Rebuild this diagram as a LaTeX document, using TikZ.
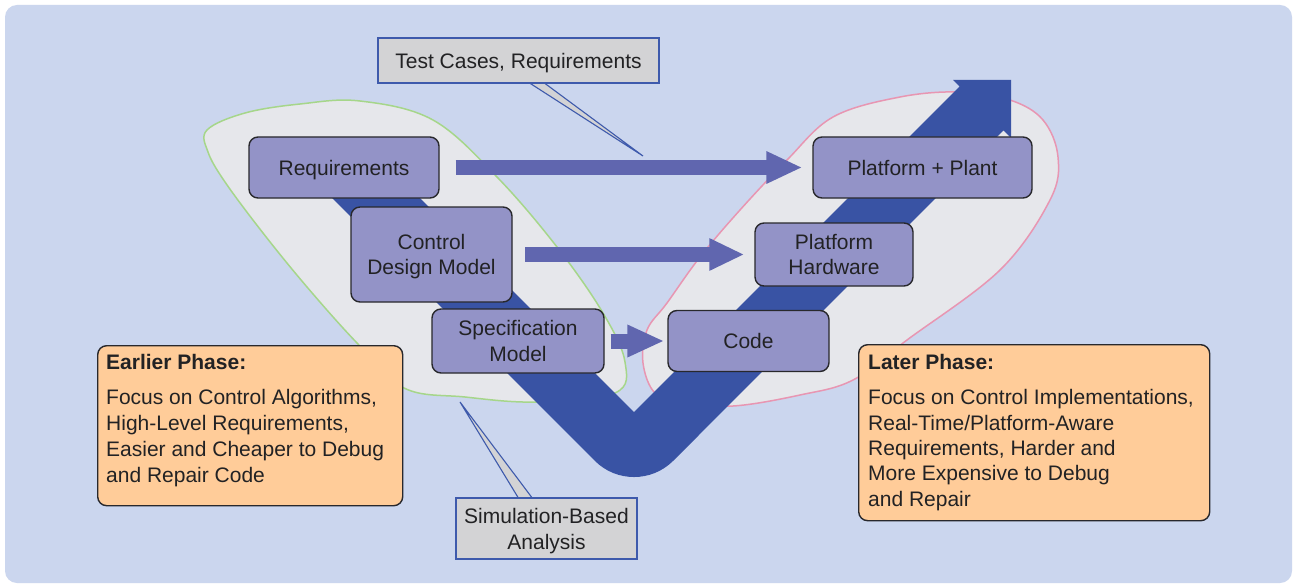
\documentclass[tikz,border=0pt]{standalone}
\usepackage{fontspec}
\setmainfont{Liberation Sans}
\usetikzlibrary{arrows.meta}

\definecolor{panel}{RGB}{203,214,238}
\definecolor{blobfill}{RGB}{230,231,235}
\definecolor{blobgreen}{RGB}{166,214,138}
\definecolor{blobpink}{RGB}{232,150,178}
\definecolor{vblue}{RGB}{57,83,164}
\definecolor{flowblue}{RGB}{96,102,175}
\definecolor{stagefill}{RGB}{147,147,199}
\definecolor{edgegray}{RGB}{40,40,44}
\definecolor{notefill}{RGB}{255,204,153}
\definecolor{calloutfill}{RGB}{211,211,213}
\definecolor{calloutedge}{RGB}{62,90,172}
\definecolor{inktext}{RGB}{34,34,36}

\begin{document}
\begin{tikzpicture}[x=1pt,y=-1pt,
  txt/.style={font=\fontsize{21}{25.5}\selectfont, text=inktext},
  stage/.style={txt, draw=edgegray, line width=1.4pt, fill=stagefill,
    rounded corners=9pt, align=center, inner sep=0pt, text depth=0pt},
  flow/.style={draw=flowblue, line width=15pt},
  callout/.style={txt, draw=calloutedge, line width=1.1pt, fill=calloutfill,
    align=center, inner sep=0pt, text depth=0pt},
  pointer/.style={draw=calloutedge, line width=1.1pt, fill=calloutfill, line join=miter},
  note/.style={draw=edgegray, line width=1.4pt, fill=notefill, rounded corners=9pt,
    inner sep=0pt, anchor=north west},
  notehead/.style={txt, font=\fontsize{21}{25.5}\selectfont\bfseries, anchor=base west, inner sep=0pt},
  notebody/.style={txt, anchor=north west, align=left, inner sep=0pt}
]
% canvas and panel
\fill[white] (0,0) rectangle (1297,588);
\useasboundingbox (0,0) rectangle (1297,588);
\fill[panel, rounded corners=12pt] (5,5) rectangle (1292,583);

% phase regions
\filldraw[fill=blobfill, draw=blobgreen, line width=1.5pt]
  plot[smooth cycle, tension=0.6] coordinates {
    (207,130) (245,113) (300,104) (360,101) (433,120) (497,177) (557,247)
    (603,313) (625,362) (615,393) (536,402) (465,397) (404,388) (357,343)
    (307,287) (263,233) (225,182) (208,152)};
\filldraw[fill=blobfill, draw=blobpink, line width=1.5pt]
  plot[smooth cycle, tension=0.6] coordinates {
    (833,117) (900,97) (960,92) (1010,100) (1043,120) (1058,157) (1050,200)
    (1000,270) (907,340) (853,380) (800,395) (733,406) (683,402) (655,393)
    (643,363) (647,330) (667,303) (700,257) (740,210) (787,160)};

% the V flow
\fill[vblue] (365,143) -- (634,412.2) -- (959.6,86.6) -- (953,80) -- (1011,80)
  -- (1011,138) -- (1003.4,130.4) -- (673.1,460.9)
  .. controls (651.5,482.4) and (616.5,482.4) .. (594.9,460.9)
  -- (321,187) -- cycle;

% stages
\node[stage, minimum width=190pt, minimum height=61pt] (req) at (344,167.5) {Requirements};
\node[stage, minimum width=161pt, minimum height=95pt] (cdm) at (431.5,254.5) {Control\\Design Model};
\node[stage, minimum width=172pt, minimum height=64pt] (spec) at (518,341) {Specification\\Model};
\node[stage, minimum width=161pt, minimum height=61pt] (code) at (748.5,341) {Code};
\node[stage, minimum width=158pt, minimum height=63pt] (ph) at (834,254.5) {Platform\\Hardware};
\node[stage, minimum width=219pt, minimum height=61pt] (pp) at (922.5,167.5) {Platform + Plant};

% reuse arrows
\draw[flow, -{Triangle[length=36pt,width=30pt]}] ([xshift=16pt]req.east) -- ([xshift=-10pt]pp.west);
\draw[flow, -{Triangle[length=35pt,width=30pt]}] ([xshift=12.5pt]cdm.east) -- ([xshift=-10pt]ph.west);
\draw[flow, -{Triangle[length=37pt,width=30pt]}] ([xshift=6pt]spec.east) -- ([xshift=-3pt]code.west);

% callouts
\coordinate (testtip) at (643,156);
\coordinate (simtip) at (460,402);
\filldraw[pointer] (528,82) -- (testtip) -- (543,82);
\node[callout, minimum width=281pt, minimum height=45pt] (testnote) at (518.5,60.5) {Test Cases, Requirements};
\filldraw[pointer] (519,499) -- (simtip) -- (533,499);
\node[callout, minimum width=181pt, minimum height=61pt, font=\fontsize{21}{26}\selectfont] (simnote) at (546.5,528.5) {Simulation-Based\\Analysis};

% phase notes
\node[note, minimum width=305pt, minimum height=160pt] (early) at (97,345) {};
\node[notehead] (earlyhead) at (106,369.5) {Earlier Phase:};
\node[notebody, font=\fontsize{21}{25.8}\selectfont] (earlybody) at (106,389.5)
  {Focus on Control Algorithms,\\High-Level Requirements,\\Easier and Cheaper to Debug\\and Repair Code};

\node[note, minimum width=351pt, minimum height=176pt] (late) at (858,344) {};
\node[notehead] (latehead) at (868,369.5) {Later Phase:};
\node[notebody, font=\fontsize{21}{25.3}\selectfont] (latebody) at (868,389.5)
  {Focus on Control Implementations,\\Real-Time/Platform-Aware\\Requirements, Harder and\\More Expensive to Debug\\and Repair};
\end{tikzpicture}
\end{document}
